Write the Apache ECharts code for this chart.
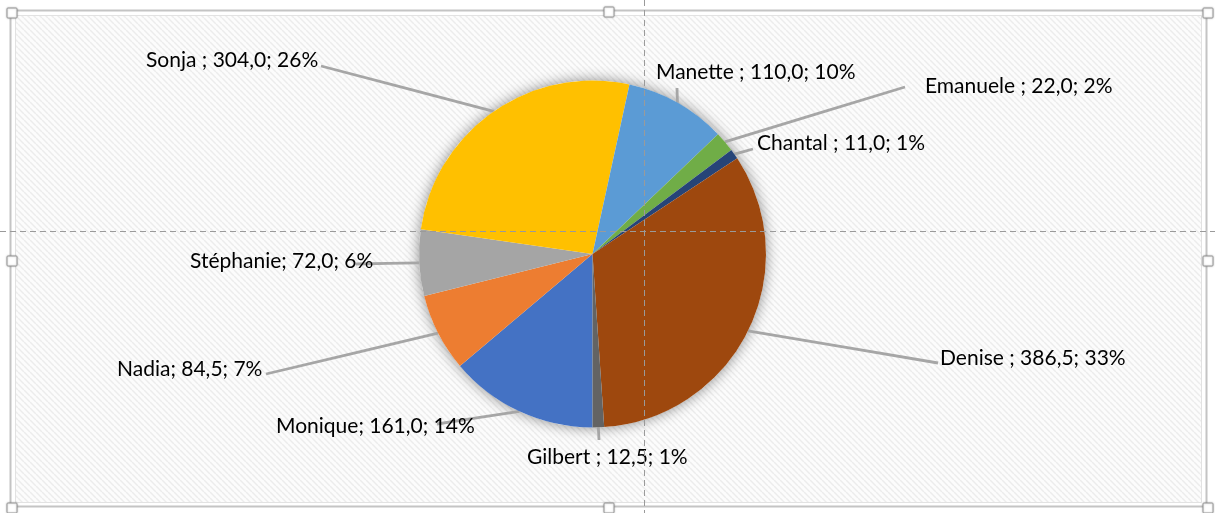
<!DOCTYPE html>
<html><head><meta charset="utf-8">
<script src="https://cdn.jsdelivr.net/npm/echarts@6/dist/echarts.min.js"></script>
<style>html,body{margin:0;padding:0;background:#fff}#c{width:1215px;height:513px}</style>
</head><body><div id="c"></div>
<script>
// ---- data ----
const categories = ['Monique', 'Nadia', 'Stéphanie', 'Sonja ', 'Manette ', 'Emanuele ', 'Chantal ', 'Denise ', 'Gilbert '];
const values = [161.0, 84.5, 72.0, 304.0, 110.0, 22.0, 11.0, 386.5, 12.5];
const colors = ['#4472C4', '#ED7D31', '#A5A5A5', '#FFC000', '#5B9BD5', '#70AD47', '#264478', '#9E480E', '#636363'];

// ---- label layout (text left x, text centre y, leader end x, leader end y) ----
const labelPos = [
  [276, 426, 437, 424],
  [117, 369, 266, 374],
  [190, 261, 356, 264],
  [146, 60, 321, 66],
  [656, 72, 677, 88],
  [925, 86, 905, 87],
  [757, 143, 753, 149],
  [940, 358, 938, 363],
  [527, 457, 599, 440]
];

// hatch pattern
const tile = document.createElement('canvas');
const S = 6;
tile.width = S; tile.height = S;
const g = tile.getContext('2d');
g.fillStyle = '#fcfcfc';
g.fillRect(0, 0, S, S);
g.strokeStyle = '#ececec';
g.lineWidth = 1.5;
for (let k = -1; k <= 1; k++) {
  g.beginPath();
  g.moveTo(k * S, 0);
  g.lineTo(k * S + S, S);
  g.stroke();
}

const total = values.reduce((a, b) => a + b, 0);
const chart = echarts.init(document.getElementById('c'));

function handle(cx, cy) {
  return {
    type: 'rect', z: 200,
    shape: { x: cx - 5, y: cy - 5, width: 10, height: 10, r: 1 },
    style: { fill: '#ffffff', stroke: '#9a9a9a', lineWidth: 1, shadowBlur: 2, shadowColor: 'rgba(0,0,0,0.25)' }
  };
}

const option = {
  animation: false,
  backgroundColor: '#ffffff',
  graphic: [
    { type: 'rect', z: -20, shape: { x: 10.5, y: 10.5, width: 1196, height: 496 },
      style: { fill: '#ffffff', stroke: '#c4c4c4', lineWidth: 2 } },
    { type: 'rect', z: -19, shape: { x: 15.5, y: 15.5, width: 1186, height: 487 },
      style: { fill: { image: tile, repeat: 'repeat' }, stroke: '#e2e2e2', lineWidth: 1 } },
    { type: 'line', z: 150, shape: { x1: 644.5, y1: 0, x2: 644.5, y2: 513 },
      style: { stroke: '#9a9a9a', lineWidth: 1, lineDash: [6, 4] } },
    { type: 'line', z: 150, shape: { x1: 0, y1: 231.5, x2: 1215, y2: 231.5 },
      style: { stroke: '#9a9a9a', lineWidth: 1, lineDash: [6, 4] } },
    handle(12, 13), handle(609, 12), handle(1208, 13),
    handle(12, 261), handle(1208, 261),
    handle(12, 508), handle(609, 508), handle(1208, 508)
  ],
  series: [
    {
      type: 'pie', z: 1, silent: true,
      center: [592.5, 254], radius: 173.5,
      label: { show: false }, labelLine: { show: false },
      itemStyle: { color: '#ffffff', shadowBlur: 14, shadowColor: 'rgba(0,0,0,0.45)' },
      data: [{ value: total, name: 'total' }]
    },
    {
      type: 'pie', z: 2,
      center: [592.5, 254], radius: 173.5,
      startAngle: -90, clockwise: true,
      avoidLabelOverlap: false,
      percentPrecision: 0,
      itemStyle: { borderWidth: 0 },
      label: {
        show: true, position: 'outside',
        fontFamily: 'Lato', fontSize: 21, color: '#000000',
        formatter: p => p.name + '; ' + p.value.toFixed(1).replace('.', ',') + '; ' + p.percent + '%'
      },
      labelLine: { show: true, length: 10, length2: 10, lineStyle: { color: '#a6a6a6', width: 2.8 } },
      labelLayout: function (params) {
        const lp = labelPos[params.dataIndex];
        const res = { x: lp[0], y: lp[1], align: 'left', verticalAlign: 'middle' };
        if (params.labelLinePoints) {
          const p0 = params.labelLinePoints[0];
          res.labelLinePoints = [p0, [(p0[0] + lp[2]) / 2, (p0[1] + lp[3]) / 2], [lp[2], lp[3]]];
        }
        return res;
      },
      data: categories.map((c, i) => ({ name: c, value: values[i], itemStyle: { color: colors[i] } }))
    }
  ]
};
chart.setOption(option);
</script>
</body></html>
